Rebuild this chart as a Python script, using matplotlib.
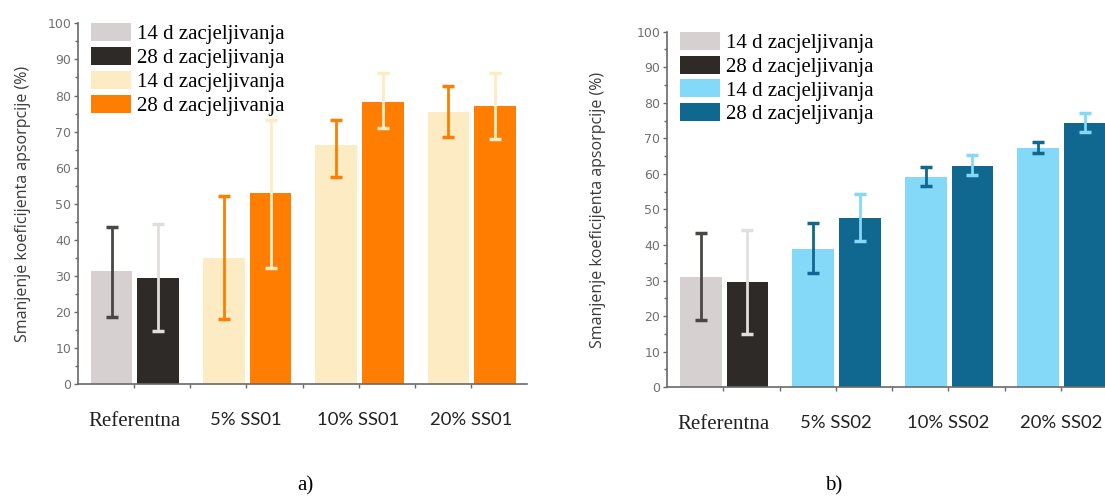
import matplotlib
matplotlib.use("Agg")
import matplotlib.pyplot as plt
import numpy as np
from matplotlib.ticker import MultipleLocator

# ---------------------------------------------------------------- data
groups_a = ["Referentna", "5% SS01", "10% SS01", "20% SS01"]
groups_b = ["Referentna", "5% SS02", "10% SS02", "20% SS02"]
legend_labels = ["14 d zacjeljivanja", "28 d zacjeljivanja",
                 "14 d zacjeljivanja", "28 d zacjeljivanja"]

# panel a) mean and error-bar low/high
a_14 = [31.3, 35.0, 66.3, 75.3]
a_14_lo = [18.7, 18.0, 57.3, 68.6]
a_14_hi = [43.7, 52.3, 73.2, 82.7]
a_28 = [29.5, 53.0, 78.3, 77.1]
a_28_lo = [14.9, 32.3, 71.0, 67.9]
a_28_hi = [44.3, 73.2, 86.3, 86.3]

# panel b)
b_14 = [30.9, 38.8, 59.0, 67.2]
b_14_lo = [18.9, 32.0, 56.6, 66.0]
b_14_hi = [43.3, 46.1, 62.0, 68.9]
b_28 = [29.5, 47.5, 62.3, 74.4]
b_28_lo = [14.9, 41.2, 59.7, 71.7]
b_28_hi = [44.2, 54.3, 65.3, 77.0]

ref_light, ref_dark = "#d6d1d0", "#2e2a27"
ref_err_light, ref_err_dark = "#4a4644", "#e2dedd"
pal_a = ("#fdebc3", "#ff7d00")
pal_b = ("#84d8f8", "#10678f")

W, H = 1105, 499
fig = plt.figure(figsize=(W / 100, H / 100), dpi=100)


def px_axes(x0, x1, y0, y1):
    # pixel box (top-left origin) -> figure axes
    return fig.add_axes([x0 / W, (H - y0) / H, (x1 - x0) / W, (y0 - y1) / H])


def panel(ax, groups, m14, lo14, hi14, m28, lo28, hi28, pal, ylab_x):
    x = np.arange(len(groups))
    bw = 0.37
    c14 = [ref_light] + [pal[0]] * (len(groups) - 1)
    c28 = [ref_dark] + [pal[1]] * (len(groups) - 1)
    e14 = [ref_err_light] + [pal[1]] * (len(groups) - 1)
    e28 = [ref_err_dark] + [pal[0]] * (len(groups) - 1)
    b1 = ax.bar(x - 0.2, m14, bw, color=c14, zorder=2)
    b2 = ax.bar(x + 0.215, m28, bw, color=c28, zorder=2)
    for i in range(len(groups)):
        ax.errorbar(x[i] - 0.2, m14[i],
                    yerr=[[m14[i] - lo14[i]], [hi14[i] - m14[i]]],
                    fmt="none", ecolor=e14[i], elinewidth=2.0, capsize=4,
                    capthick=2.5, zorder=3)
        ax.errorbar(x[i] + 0.215, m28[i],
                    yerr=[[m28[i] - lo28[i]], [hi28[i] - m28[i]]],
                    fmt="none", ecolor=e28[i], elinewidth=2.0, capsize=4,
                    capthick=2.5, zorder=3)

    ax.set_xlim(-0.5, 3.5)
    ax.set_ylim(0, 100)
    for s in ("top", "right"):
        ax.spines[s].set_visible(False)
    for s in ("left", "bottom"):
        ax.spines[s].set_color("#6a6a6a")
        ax.spines[s].set_linewidth(1.2)
    ax.yaxis.set_major_locator(MultipleLocator(10))
    ax.yaxis.set_minor_locator(MultipleLocator(5))
    ax.set_xticks(x)
    ax.set_xticks([0.5, 1.5, 2.5], minor=True)
    ax.tick_params(axis="y", which="major", length=3, width=1.0,
                   color="#6a6a6a", labelsize=9, labelcolor="#707070", pad=2)
    ax.tick_params(axis="y", which="minor", length=2, width=1.0, color="#6a6a6a")
    ax.tick_params(axis="x", which="both", length=3, width=1.0,
                   color="#6a6a6a", pad=17)
    ax.set_xticklabels(groups, fontsize=13.3, color="#222222")
    tl = ax.get_xticklabels()
    tl[0].set_family("Liberation Serif")
    tl[0].set_fontsize(15)
    for t in tl[1:]:
        t.set_family("Lato")
    ax.set_ylabel("Smanjenje koeficijenta apsorpcije (%)", fontsize=11.5,
                  color="#3a3a3a", family="Open Sans")
    ax.yaxis.set_label_coords(ylab_x, 0.5)

    ax.legend([b1[0], b2[0], b1[1], b2[1]], legend_labels,
              loc="upper left", bbox_to_anchor=(0.028, 1.0), frameon=False,
              prop={"family": "Liberation Serif", "size": 15},
              handlelength=1.95, handleheight=0.95, handletextpad=0.3,
              labelspacing=0.13, borderpad=0, borderaxespad=0)


ax_a = px_axes(78, 527, 384.4, 23.3)
panel(ax_a, groups_a, a_14, a_14_lo, a_14_hi, a_28, a_28_lo, a_28_hi, pal_a, -0.105)

ax_b = px_axes(667, 1117, 387.2, 31.7)
panel(ax_b, groups_b, b_14, b_14_lo, b_14_hi, b_28, b_28_lo, b_28_hi, pal_b, -0.135)

fig.text(305 / W, 1 - 486 / H, "a)", ha="center", va="center",
         family="Liberation Serif", fontsize=15)
fig.text(834 / W, 1 - 486 / H, "b)", ha="center", va="center",
         family="Liberation Serif", fontsize=15)

fig.savefig("out.png", dpi=100)
